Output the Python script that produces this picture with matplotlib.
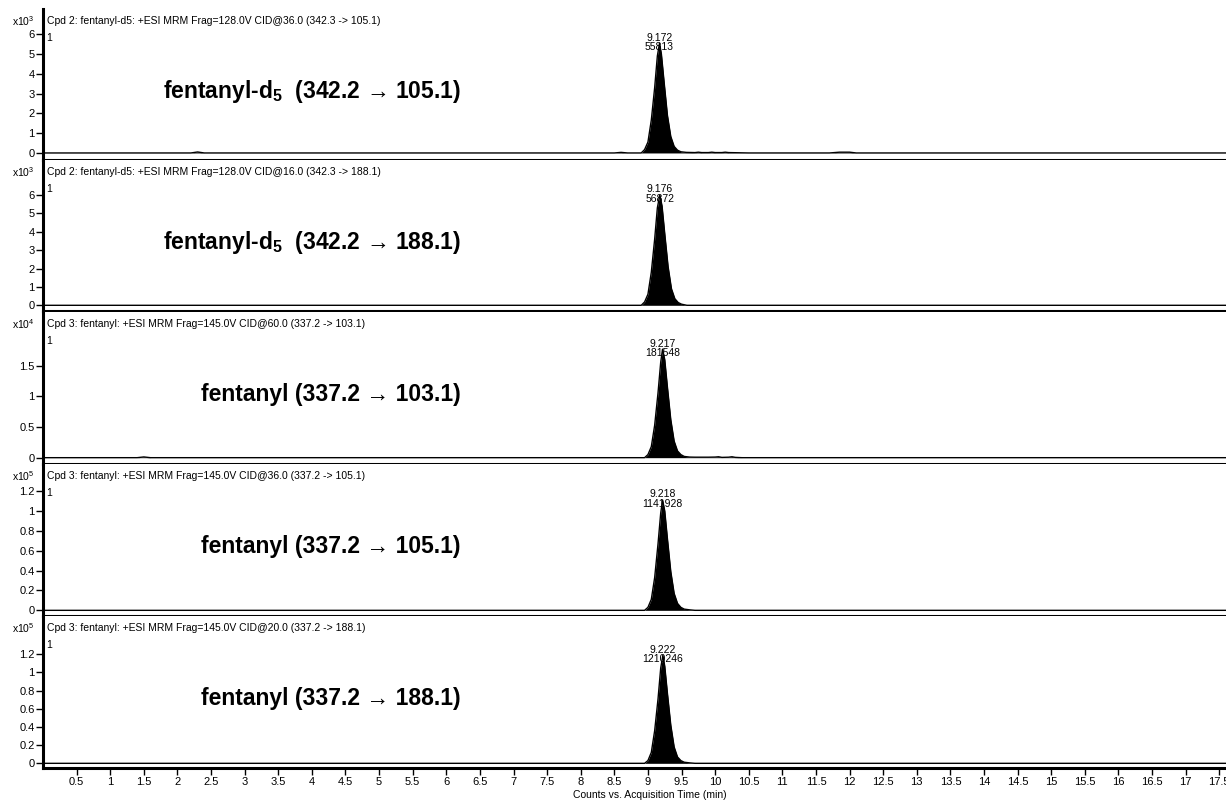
import matplotlib
matplotlib.use("Agg")
import matplotlib.pyplot as plt
from matplotlib.ticker import FormatStrFormatter

plt.rcParams['font.family'] = ['Liberation Sans', 'DejaVu Sans']
plt.rcParams['mathtext.fontset'] = 'custom'
plt.rcParams['mathtext.rm'] = 'Liberation Sans'
plt.rcParams['mathtext.bf'] = 'Liberation Sans:bold'

# chromatogram traces (time in min, counts in units of 10^exp)
t1 = [0.0, 2.2, 2.3, 2.4, 8.5, 8.6, 8.7, 8.90, 8.95, 9.00, 9.05, 9.10, 9.14, 9.172, 9.20, 9.24,
      9.29, 9.34, 9.39, 9.44, 9.49, 9.57, 9.7, 9.75, 9.8, 9.9, 9.95, 10.0, 10.1, 10.15, 10.2, 10.5,
      11.7, 11.85, 12.0, 12.1, 17.6]
y1 = [0, 0, 0.05, 0, 0, 0.03, 0, 0, 0.17, 0.55, 1.66, 3.3, 4.9, 5.54, 5.0, 3.6,
      1.9, 0.83, 0.33, 0.14, 0.06, 0.03, 0.02, 0.04, 0.02, 0.02, 0.04, 0.02, 0.02, 0.04, 0.02, 0,
      0, 0.04, 0.04, 0, 0]

t2 = [0.0, 8.90, 8.95, 9.00, 9.05, 9.10, 9.14, 9.176, 9.21, 9.25, 9.30, 9.35, 9.40, 9.45, 9.50, 9.58, 17.6]
y2 = [0, 0, 0.18, 0.6, 1.8, 3.6, 5.3, 6.0, 5.4, 3.9, 2.1, 0.9, 0.36, 0.15, 0.06, 0, 0]

t3 = [0.0, 1.4, 1.5, 1.6, 8.95, 9.0, 9.05, 9.10, 9.15, 9.19, 9.217, 9.25, 9.29, 9.34, 9.39, 9.44,
      9.49, 9.54, 9.62, 9.7, 9.9, 10.0, 10.05, 10.1, 10.2, 10.25, 10.3, 10.4, 17.6]
y3 = [0, 0, 0.012, 0, 0, 0.05, 0.18, 0.53, 1.06, 1.56, 1.77, 1.6, 1.15, 0.62, 0.27, 0.11,
      0.05, 0.02, 0.01, 0.008, 0.008, 0.01, 0.015, 0.005, 0.008, 0.015, 0.005, 0, 0]

t4 = [0.0, 8.95, 9.0, 9.05, 9.10, 9.15, 9.19, 9.218, 9.25, 9.29, 9.34, 9.39, 9.44, 9.49, 9.54, 9.62, 9.7, 17.6]
y4 = [0, 0, 0.03, 0.11, 0.33, 0.67, 0.98, 1.11, 1.0, 0.72, 0.39, 0.17, 0.07, 0.03, 0.012, 0.005, 0, 0]

t5 = [0.0, 8.95, 9.0, 9.05, 9.10, 9.15, 9.19, 9.222, 9.25, 9.29, 9.34, 9.39, 9.44, 9.49, 9.54, 9.62, 9.7, 17.6]
y5 = [0, 0, 0.03, 0.12, 0.36, 0.71, 1.05, 1.19, 1.07, 0.77, 0.42, 0.18, 0.07, 0.03, 0.012, 0.005, 0, 0]

times = [t1, t2, t3, t4, t5]
counts = [y1, y2, y3, y4, y5]
exponents = [3, 3, 4, 5, 5]

peak_rt = [9.172, 9.176, 9.217, 9.218, 9.222]
peak_height = [5.54, 6.0, 1.77, 1.11, 1.19]
peak_area = ["55813", "56872", "181548", "1141928", "1210246"]

headers = [
    "Cpd 2: fentanyl-d5: +ESI MRM Frag=128.0V CID@36.0 (342.3 -> 105.1)",
    "Cpd 2: fentanyl-d5: +ESI MRM Frag=128.0V CID@16.0 (342.3 -> 188.1)",
    "Cpd 3: fentanyl: +ESI MRM Frag=145.0V CID@60.0 (337.2 -> 103.1)",
    "Cpd 3: fentanyl: +ESI MRM Frag=145.0V CID@36.0 (337.2 -> 105.1)",
    "Cpd 3: fentanyl: +ESI MRM Frag=145.0V CID@20.0 (337.2 -> 188.1)",
]
labels = [
    "fentanyl-d$_\\mathbf{5}$  (342.2 \u2192 105.1)",
    "fentanyl-d$_\\mathbf{5}$  (342.2 \u2192 188.1)",
    "fentanyl (337.2 \u2192 103.1)",
    "fentanyl (337.2 \u2192 105.1)",
    "fentanyl (337.2 \u2192 188.1)",
]
yticks = [
    [0, 1, 2, 3, 4, 5, 6],
    [0, 1, 2, 3, 4, 5, 6],
    [0, 0.5, 1, 1.5],
    [0, 0.2, 0.4, 0.6, 0.8, 1, 1.2],
    [0, 0.2, 0.4, 0.6, 0.8, 1, 1.2],
]
xticks = [0.5, 1, 1.5, 2, 2.5, 3, 3.5, 4, 4.5, 5, 5.5, 6, 6.5, 7, 7.5, 8, 8.5, 9, 9.5,
          10, 10.5, 11, 11.5, 12, 12.5, 13, 13.5, 14, 14.5, 15, 15.5, 16, 16.5, 17, 17.5]

# layout in pixels
W, H = 1226, 800
left = 43 / W
tops = [9, 160, 312, 464, 616]
bottoms = [159.5, 311, 463.5, 615.5, 767.5]
ylims = [(-0.33, 7.27), (-0.31, 7.90), (-0.095, 2.377), (-0.052, 1.472), (-0.046, 1.622)]

fig = plt.figure(figsize=(W / 100, H / 100), dpi=100)

for i in range(5):
    top, bot = tops[i], bottoms[i]
    ax = fig.add_axes([left, 1 - bot / H, 1 - left, (bot - top) / H])
    ax.fill_between(times[i], counts[i], 0, color='black', lw=0)
    ax.plot(times[i], counts[i], color='black', lw=1)
    ax.set_xlim(0, 17.6)
    ax.set_ylim(*ylims[i])
    ax.set_yticks(yticks[i])
    ax.yaxis.set_major_formatter(FormatStrFormatter('%g'))
    ax.tick_params(axis='y', direction='out', length=5, width=1, pad=1, labelsize=8)
    for s in ['top', 'right']:
        ax.spines[s].set_visible(False)
    ax.spines['left'].set_linewidth(2.2)
    ax.spines['bottom'].set_linewidth(2.2)

    if i == 4:
        ax.set_xticks(xticks)
        ax.xaxis.set_major_formatter(FormatStrFormatter('%g'))
        ax.tick_params(axis='x', direction='out', length=5, width=1, pad=2, labelsize=8)
    else:
        ax.set_xticks([])

    ax.annotate(f"x10$^{{{exponents[i]}}}$", xy=(0, 1), xycoords='axes fraction',
                xytext=(-8, -12), textcoords='offset pixels', ha='right', va='center', fontsize=7.5)
    ax.annotate(headers[i], xy=(0, 1), xycoords='axes fraction',
                xytext=(4, -12), textcoords='offset pixels', ha='left', va='center', fontsize=7.5)
    ax.annotate("1", xy=(0, 1), xycoords='axes fraction',
                xytext=(3, -29), textcoords='offset pixels', ha='left', va='center', fontsize=7.5)

    ax.annotate(f"{peak_rt[i]:.3f}\n{peak_area[i]}", xy=(peak_rt[i], peak_height[i]),
                xytext=(0, -9), textcoords='offset pixels', ha='center', va='bottom',
                fontsize=7.5, linespacing=0.95)

    ax.text(0.353, 0.455, labels[i], transform=ax.transAxes, ha='right', va='center',
            fontsize=16.5, fontweight='bold')

fig.text(650 / W, 1 - 795 / H, "Counts vs. Acquisition Time (min)", ha='center', va='center', fontsize=7.5)

fig.savefig("out.png", dpi=100)
